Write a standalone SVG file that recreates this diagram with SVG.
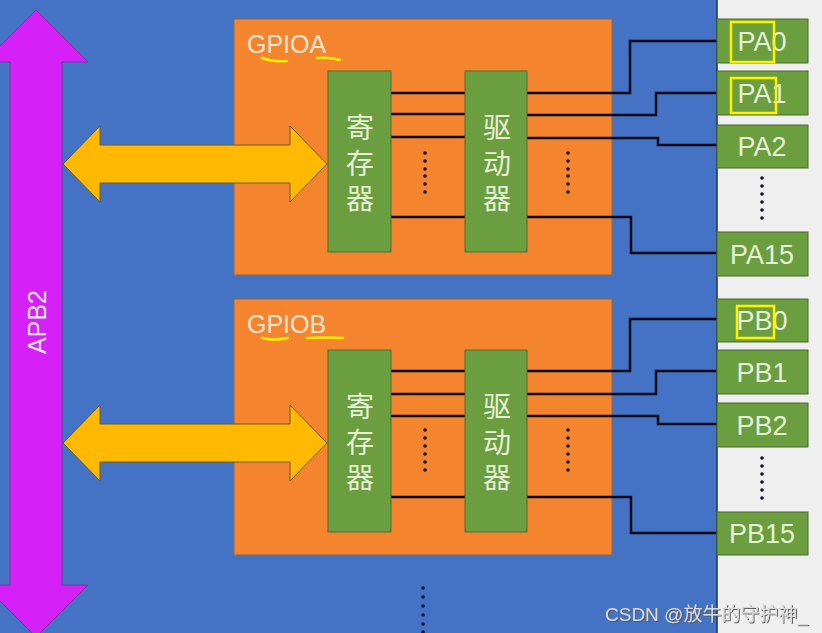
<svg xmlns="http://www.w3.org/2000/svg" width="822" height="633" viewBox="0 0 822 633">
<defs>
<style>
.bg{fill:#4472C4}
.gpio{fill:#F5842F;stroke:#8a6a50;stroke-width:1}
.blk{fill:#6B9E3E;stroke:#4f6e2e;stroke-width:1}
.pin{fill:#6B9E3E;stroke:#4a6a2c;stroke-width:1}
.wire{fill:none;stroke:#0b0b1a;stroke-width:2.5}
.dot{fill:#101030}
.lbl{font-family:"Liberation Sans","Noto Sans CJK SC",sans-serif;font-size:25px;fill:#F6E6D2}
.cn{font-family:"Noto Sans CJK SC",sans-serif;font-size:28px;fill:#E6F0D8;text-anchor:middle;writing-mode:vertical-rl;letter-spacing:7.5px}
.pt{font-family:"Liberation Sans",sans-serif;font-size:27px;fill:#E6F0D8;text-anchor:middle}
.hl{fill:none;stroke:#FFF200;stroke-width:2.5}
.ul{fill:none;stroke:#FFF000;stroke-width:2.5;stroke-linecap:round}
.yarrow{fill:#FFB900;stroke:#6a5a30;stroke-width:1}
</style>
<filter id="sh" x="-5%" y="-20%" width="110%" height="140%">
<feDropShadow dx="1" dy="1" stdDeviation="0.6" flood-color="#555555" flood-opacity="0.9"/>
</filter>
</defs>
<rect x="0" y="0" width="822" height="633" fill="#EFEFEF"/>
<rect class="bg" x="0" y="0" width="717" height="633"/>
<line x1="717" y1="0" x2="717" y2="633" stroke="#1f3050" stroke-width="1.5"/>

<g id="apb2">
<polygon points="36,10 88,62 62,62 62,585 88,585 36,637 -16,585 10,585 10,62 -16,62" fill="#D520F8" stroke="#7a3090" stroke-width="0.8"/>
<text transform="translate(37,322) rotate(-90)" text-anchor="middle" dominant-baseline="central" font-family="Liberation Sans, sans-serif" font-size="25" fill="#F2E2FF">APB2</text>
</g>

<g id="gpioa">
<rect class="gpio" x="234" y="19" width="378" height="256"/>
<text class="lbl" x="247" y="53">GPIOA</text>
<path class="ul" d="M262,58 Q272,62 287,61"/>
<path class="ul" d="M317,58 Q330,57 340,60"/>
</g>

<g id="gpiob">
<rect class="gpio" x="234" y="299" width="378" height="256"/>
<text class="lbl" x="247" y="333">GPIOB</text>
<path class="ul" d="M262,338 Q274,341 288,338"/>
<path class="ul" d="M307,338 Q325,337 343,338"/>
</g>

<g id="busA">
<polygon class="yarrow" points="63,164 100,126 100,145 290,145 290,126 327,164 290,202 290,183 100,183 100,202"/>
</g>
<g id="busB">
<polygon class="yarrow" points="63,443 100,405 100,424 290,424 290,405 327,443 290,481 290,462 100,462 100,481"/>
</g>

<g id="connectors">
<path class="wire" d="M391,93H465M391,114H465M391,137H465M391,217H465"/>
<path class="wire" d="M527,93H630V41H717"/>
<path class="wire" d="M527,115H656V93H717"/>
<path class="wire" d="M527,138H658V145H717"/>
<path class="wire" d="M527,217H631V253H717"/>
<path class="wire" d="M391,371H465M391,394H465M391,416H465M391,497H465"/>
<path class="wire" d="M527,371H630V319H717"/>
<path class="wire" d="M527,394H656V371H717"/>
<path class="wire" d="M527,416H658V424H717"/>
<path class="wire" d="M527,497H631V533H717"/>
</g>

<g id="regA">
<rect class="blk" x="328" y="71" width="63" height="181"/>
<text class="cn" x="360" y="167">寄存器</text>
</g>
<g id="drvA">
<rect class="blk" x="465" y="71" width="62" height="181"/>
<text class="cn" x="497" y="167">驱动器</text>
</g>
<g id="regB">
<rect class="blk" x="328" y="350" width="63" height="182"/>
<text class="cn" x="360" y="446">寄存器</text>
</g>
<g id="drvB">
<rect class="blk" x="465" y="350" width="62" height="182"/>
<text class="cn" x="497" y="446">驱动器</text>
</g>

<g id="dots">
<g class="dot">
<circle cx="425" cy="153" r="1.8"/><circle cx="425" cy="161" r="1.8"/><circle cx="425" cy="169" r="1.8"/><circle cx="425" cy="176" r="1.8"/><circle cx="425" cy="184" r="1.8"/><circle cx="425" cy="192" r="1.8"/>
<circle cx="568" cy="153" r="1.8"/><circle cx="568" cy="161" r="1.8"/><circle cx="568" cy="169" r="1.8"/><circle cx="568" cy="176" r="1.8"/><circle cx="568" cy="184" r="1.8"/><circle cx="568" cy="192" r="1.8"/>
<circle cx="425" cy="430" r="1.8"/><circle cx="425" cy="438" r="1.8"/><circle cx="425" cy="446" r="1.8"/><circle cx="425" cy="454" r="1.8"/><circle cx="425" cy="462" r="1.8"/><circle cx="425" cy="470" r="1.8"/>
<circle cx="568" cy="430" r="1.8"/><circle cx="568" cy="438" r="1.8"/><circle cx="568" cy="446" r="1.8"/><circle cx="568" cy="454" r="1.8"/><circle cx="568" cy="462" r="1.8"/><circle cx="568" cy="470" r="1.8"/>
<circle cx="762" cy="178" r="1.8"/><circle cx="762" cy="186" r="1.8"/><circle cx="762" cy="194" r="1.8"/><circle cx="762" cy="202" r="1.8"/><circle cx="762" cy="210" r="1.8"/><circle cx="762" cy="218" r="1.8"/>
<circle cx="762" cy="458" r="1.8"/><circle cx="762" cy="466" r="1.8"/><circle cx="762" cy="474" r="1.8"/><circle cx="762" cy="482" r="1.8"/><circle cx="762" cy="490" r="1.8"/><circle cx="762" cy="498" r="1.8"/>
<circle cx="423" cy="588" r="1.8"/><circle cx="423" cy="597" r="1.8"/><circle cx="423" cy="606" r="1.8"/><circle cx="423" cy="615" r="1.8"/><circle cx="423" cy="624" r="1.8"/><circle cx="423" cy="632" r="1.8"/>
</g>
</g>

<g id="PA0"><rect class="pin" x="717" y="19" width="91" height="44"/><text class="pt" x="762" y="51">PA0</text></g>
<g id="PA1"><rect class="pin" x="717" y="71" width="91" height="44"/><text class="pt" x="762" y="103">PA1</text></g>
<g id="PA2"><rect class="pin" x="717" y="125" width="91" height="43"/><text class="pt" x="762" y="156">PA2</text></g>
<g id="PA15"><rect class="pin" x="717" y="232" width="91" height="44"/><text class="pt" x="762" y="264">PA15</text></g>
<g id="PB0"><rect class="pin" x="717" y="299" width="91" height="43"/><text class="pt" x="762" y="330">PB0</text></g>
<g id="PB1"><rect class="pin" x="717" y="350" width="91" height="44"/><text class="pt" x="762" y="382">PB1</text></g>
<g id="PB2"><rect class="pin" x="717" y="403" width="91" height="44"/><text class="pt" x="762" y="435">PB2</text></g>
<g id="PB15"><rect class="pin" x="717" y="512" width="91" height="43"/><text class="pt" x="762" y="543">PB15</text></g>

<g id="highlights">
<rect class="hl" x="731" y="22" width="43" height="40"/>
<rect class="hl" x="731" y="78" width="45" height="35"/>
<rect class="hl" x="737" y="306" width="37" height="32"/>
</g>

<text x="605" y="621" font-family="Liberation Sans, Noto Sans CJK SC, sans-serif" font-size="19" fill="#DADADA" filter="url(#sh)">CSDN @放牛的守护神_</text>
</svg>
